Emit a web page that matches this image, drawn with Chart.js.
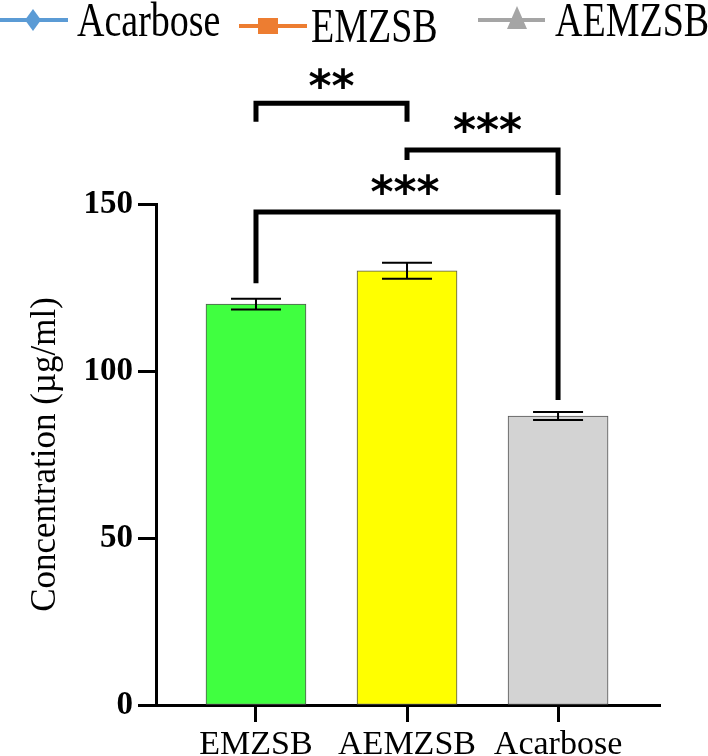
<!DOCTYPE html>
<html>
<head>
<meta charset="utf-8">
<script src="https://cdn.jsdelivr.net/npm/chart.js@4"></script>
<style>
  html, body { margin: 0; padding: 0; background: #fff; }
  #wrap { width: 708px; height: 756px; position: relative; }
</style>
</head>
<body>
<div id="wrap"><canvas id="concChart"></canvas></div>
<script>
const categories = ['EMZSB', 'AEMZSB', 'Acarbose'];
const meanValues = [120, 130, 86.5];
const errorValues = [1.6, 2.4, 1.2];
const barColors = ['#40ff40', '#ffff00', '#d3d3d3'];
const yTicks = [0, 50, 100, 150];

// significance brackets (x = category index, y in data units)
const brackets = [
  { from: 0, to: 1, top: 180.2, legFrom: 174.6, legTo: 174.6, label: '**', textY: 187.7, dx: 0 },
  { from: 1, to: 2, top: 166.2, legFrom: 163.2, legTo: 152.7, label: '***', textY: 174.3, dx: 5 },
  { from: 0, to: 2, top: 147.6, legFrom: 126.3, legTo: 91.3, label: '***', textY: 155.7, dx: -2 }
];

const legendItems = [
  { text: 'Acarbose', color: '#5b9bd5', marker: 'diamond', x0: 0, x1: 68, ly: 20, mx: 33, tx: 77, base: 36 },
  { text: 'EMZSB', color: '#ed7d31', marker: 'square', x0: 239, x1: 307, ly: 26, mx: 268, tx: 311, base: 42 },
  { text: 'AEMZSB', color: '#a5a5a5', marker: 'triangle', x0: 478, x1: 545, ly: 20, mx: 517, tx: 555, base: 36 }
];

const annotations = {
  id: 'annotations',
  afterDraw(chart) {
    const ctx = chart.ctx;
    const x = chart.scales.x;
    const y = chart.scales.y;

    // error bars
    ctx.save();
    ctx.strokeStyle = '#000';
    ctx.lineWidth = 2;
    meanValues.forEach((v, i) => {
      const cx = x.getPixelForValue(i);
      const yHi = y.getPixelForValue(v + errorValues[i]);
      const yLo = y.getPixelForValue(v - errorValues[i]);
      ctx.beginPath();
      ctx.moveTo(cx, yHi); ctx.lineTo(cx, yLo);
      ctx.moveTo(cx - 25, yHi); ctx.lineTo(cx + 25, yHi);
      ctx.moveTo(cx - 25, yLo); ctx.lineTo(cx + 25, yLo);
      ctx.stroke();
    });
    ctx.restore();

    // brackets
    ctx.save();
    ctx.strokeStyle = '#000';
    ctx.fillStyle = '#000';
    ctx.lineWidth = 5;
    ctx.lineJoin = 'miter';
    ctx.font = 'bold 44px "DejaVu Sans"';
    ctx.textAlign = 'center';
    ctx.textBaseline = 'alphabetic';
    brackets.forEach(b => {
      const xa = x.getPixelForValue(b.from);
      const xb = x.getPixelForValue(b.to);
      ctx.beginPath();
      ctx.moveTo(xa, y.getPixelForValue(b.legFrom));
      ctx.lineTo(xa, y.getPixelForValue(b.top));
      ctx.lineTo(xb, y.getPixelForValue(b.top));
      ctx.lineTo(xb, y.getPixelForValue(b.legTo));
      ctx.stroke();
      const m = ctx.measureText(b.label);
      const ty = y.getPixelForValue(b.textY);
      const base = ty - (m.actualBoundingBoxDescent - m.actualBoundingBoxAscent) / 2;
      ctx.fillText(b.label, (xa + xb) / 2 + b.dx, base);
    });
    ctx.restore();

    // legend at top
    ctx.save();
    legendItems.forEach(it => {
      ctx.strokeStyle = it.color;
      ctx.fillStyle = it.color;
      ctx.lineWidth = 4;
      ctx.beginPath();
      ctx.moveTo(it.x0, it.ly); ctx.lineTo(it.x1, it.ly);
      ctx.stroke();
      ctx.beginPath();
      if (it.marker === 'diamond') {
        ctx.moveTo(it.mx, it.ly - 11);
        ctx.lineTo(it.mx + 8, it.ly);
        ctx.lineTo(it.mx, it.ly + 11);
        ctx.lineTo(it.mx - 8, it.ly);
      } else if (it.marker === 'square') {
        ctx.rect(it.mx - 10, it.ly - 8, 20, 16);
      } else {
        ctx.moveTo(it.mx, it.ly - 14);
        ctx.lineTo(it.mx + 10, it.ly + 9);
        ctx.lineTo(it.mx - 10, it.ly + 9);
      }
      ctx.closePath();
      ctx.fill();
      ctx.fillStyle = '#000';
      ctx.font = '38px "Liberation Serif"';
      ctx.textAlign = 'left';
      ctx.textBaseline = 'alphabetic';
      ctx.save();
      ctx.translate(it.tx, it.base);
      ctx.scale(1, 1.28);
      ctx.fillText(it.text, 0, 0);
      ctx.restore();
    });
    ctx.restore();
  }
};

new Chart(document.getElementById('concChart'), {
  type: 'bar',
  data: {
    datasets: [{
      data: categories.map((c, i) => ({ x: i, y: meanValues[i] })),
      backgroundColor: barColors,
      borderColor: '#555',
      borderWidth: 1,
      borderSkipped: false,
      barThickness: 100
    }]
  },
  options: {
    responsive: true,
    maintainAspectRatio: false,
    animation: false,
    layout: { padding: { top: 204, right: 48, left: 0, bottom: 0 } },
    plugins: {
      legend: { display: false },
      tooltip: { enabled: false }
    },
    scales: {
      x: {
        type: 'linear',
        min: -0.662,
        max: 2.675,
        offset: false,
        afterBuildTicks: scale => { scale.ticks = categories.map((c, i) => ({ value: i })); },
        afterFit: scale => { scale.height = 51; },
        border: { display: true, color: '#000', width: 3 },
        grid: { offset: false, drawOnChartArea: false, drawTicks: true, tickLength: 17, tickWidth: 3, tickColor: '#000', color: '#000' },
        ticks: {
          callback: v => categories[v],
          color: '#000',
          padding: 3,
          maxRotation: 0,
          autoSkip: false,
          font: { family: 'Liberation Serif', size: 34 }
        }
      },
      y: {
        min: 0,
        max: 150,
        afterBuildTicks: scale => { scale.ticks = yTicks.map(v => ({ value: v })); },
        afterFit: scale => { scale.width = 156; },
        border: { display: true, color: '#000', width: 3 },
        grid: { drawOnChartArea: false, drawTicks: true, tickLength: 18, tickWidth: 3, tickColor: '#000', color: '#000' },
        ticks: {
          color: '#000',
          padding: 5,
          font: { family: 'Liberation Serif', size: 33, weight: 'bold' }
        },
        title: {
          display: true,
          text: 'Concentration (µg/ml)',
          color: '#000',
          padding: { top: 25, bottom: 0 },
          font: { family: 'Liberation Serif', size: 35 }
        }
      }
    }
  },
  plugins: [annotations]
});
</script>
</body>
</html>
